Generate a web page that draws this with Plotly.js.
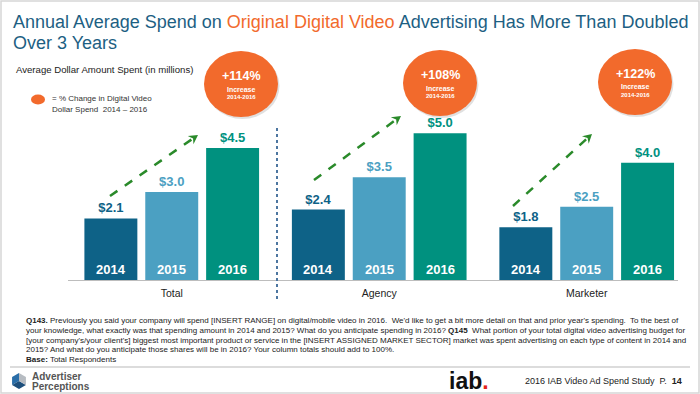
<!DOCTYPE html>
<html>
<head>
<meta charset="utf-8">
<script src="https://cdn.plot.ly/plotly-3.0.1.min.js"></script>
<style>
html,body{margin:0;padding:0;background:#fff;}
#chart{width:700px;height:394px;}
</style>
</head>
<body>
<div id="chart"></div>
<script>
// ---- data ----
const groups = ["Total", "Agency", "Marketer"];
const years = ["2014", "2015", "2016"];
const spend2014 = [2.1, 2.4, 1.8];
const spend2015 = [3.0, 3.5, 2.5];
const spend2016 = [4.5, 5.0, 4.0];
const pctChange = ["+114%", "+108%", "+122%"];
const colors = ["#0e6287", "#4ba0c2", "#00917f"];

// ---- layout constants ----
const W = 700, H = 394;
const M = {l: 68, r: 22, t: 60, b: 114};
const PW = W - M.l - M.r, PH = H - M.t - M.b;
const XR = [-0.5, 2.44];
const BARGAP = 0.12, BARGROUPGAP = 0.13;
const pxPerCat = PW / (XR[1] - XR[0]);
const slotPx = (1 - BARGAP) / 3 * pxPerCat;
const px = x => (x - M.l) / PW;
const py = y => (M.t + PH - y) / PH;

const series = [spend2014, spend2015, spend2016];
const traces = series.map((vals, i) => ({
  type: "bar",
  name: years[i],
  x: groups,
  y: vals,
  marker: {color: colors[i]},
  text: vals.map(v => "$" + v.toFixed(1)),
  texttemplate: "%{text}",
  textposition: "outside",
  cliponaxis: false,
  textfont: {family: "Liberation Sans, Arial, sans-serif", size: 13, color: colors[i], weight: "bold"},
  hoverinfo: "skip"
}));

const annotations = [];
const shapes = [];
const FONT = "Liberation Sans, Arial, sans-serif";

// year labels inside bars
groups.forEach((g, gi) => {
  years.forEach((yr, yi) => {
    annotations.push({
      xref: "x", yref: "y", x: g, y: 0, xanchor: "center", yanchor: "bottom", yshift: 1,
      xshift: (yi - 1) * slotPx, showarrow: false, text: yr,
      font: {family: FONT, size: 13, color: "#ffffff", weight: "bold"}
    });
  });
});

const txt = (x, y, text, size, color, anchor, extra) => annotations.push(Object.assign({
  xref: "paper", yref: "paper", x: px(x), y: py(y), xanchor: anchor || "left", yanchor: "middle",
  showarrow: false, text: text, font: {family: FONT, size: size, color: color}
}, extra || {}));

// orange bubbles
const bubbles = [[241, 84], [440, 83], [635, 82]];
bubbles.forEach((c, i) => {
  const rx = 37, ry = 33;
  shapes.push({type: "circle", xref: "paper", yref: "paper",
    x0: px(c[0] - rx + 1.5), x1: px(c[0] + rx + 1.5), y0: py(c[1] + ry + 2), y1: py(c[1] - ry + 2),
    fillcolor: "rgba(0,0,0,0.12)", line: {width: 0}, layer: "above"});
  shapes.push({type: "circle", xref: "paper", yref: "paper",
    x0: px(c[0] - rx), x1: px(c[0] + rx), y0: py(c[1] + ry), y1: py(c[1] - ry),
    fillcolor: "#f26a2c", line: {width: 0}, layer: "above"});
  txt(c[0], c[1] - 8, "<b>" + pctChange[i] + "</b>", 12.5, "#fff", "center");
  txt(c[0], c[1] + 5, "<b>Increase</b>", 7, "#fff", "center");
  txt(c[0], c[1] + 12.5, "<b>2014-2016</b>", 6, "#fff", "center");
});

// green dashed arrows
function arrow(x0, y0, x1, y1) {
  const dx = x1 - x0, dy = y1 - y0, len = Math.hypot(dx, dy);
  const ux = dx / len, uy = dy / len;
  const hl = 9, hw = 5;
  const bx = x1 - ux * hl, by = y1 - uy * hl;
  shapes.push({type: "line", xref: "paper", yref: "paper",
    x0: px(x0), y0: py(y0), x1: px(bx + ux * 1), y1: py(by + uy * 1),
    line: {color: "#2a8a2a", width: 2.5, dash: "dash"}, layer: "above"});
  const p1 = [bx - uy * hw, by + ux * hw], p2 = [bx + uy * hw, by - ux * hw];
  shapes.push({type: "path", xref: "paper", yref: "paper",
    path: `M ${px(x1)} ${py(y1)} L ${px(p1[0])} ${py(p1[1])} L ${px(bx + ux * 3)} ${py(by + uy * 3)} L ${px(p2[0])} ${py(p2[1])} Z`,
    fillcolor: "#2a8a2a", line: {width: 0}, layer: "above"});
}
arrow(110, 196, 198, 135);
arrow(314, 180, 401, 116);
arrow(513, 206, 592, 134);

// dotted separator
shapes.push({type: "line", xref: "paper", yref: "paper", x0: px(277), x1: px(277), y0: py(128), y1: py(299),
  line: {color: "#4d76a0", width: 2, dash: "dot"}});

// legend marker
shapes.push({type: "circle", xref: "paper", yref: "paper", x0: px(31), x1: px(45), y0: py(104.5), y1: py(94.5),
  fillcolor: "#f26a2c", line: {width: 0}});

// footer separator & slide border
shapes.push({type: "line", xref: "paper", yref: "paper", x0: px(10), x1: px(690), y0: py(367), y1: py(367),
  line: {color: "#dcdcdc", width: 2}});
shapes.push({type: "rect", xref: "paper", yref: "paper", x0: px(1), x1: px(699), y0: py(393), y1: py(1),
  line: {color: "#d6d6d6", width: 1.5}});

// logo cube (Advertiser Perceptions)
const cx = 19, cy = 381, r = 8;
const hex = a => [cx + r * Math.cos(a * Math.PI / 180), cy - r * Math.sin(a * Math.PI / 180)];
function poly(pts, fill) {
  shapes.push({type: "path", xref: "paper", yref: "paper",
    path: "M " + pts.map(p => px(p[0]) + " " + py(p[1])).join(" L ") + " Z",
    fillcolor: fill, line: {width: 0}});
}
poly([[cx, cy], hex(90), hex(150), hex(210)], "#2a6ea8");
poly([[cx, cy], hex(210), hex(270), hex(330)], "#1d4f7c");
poly([[cx, cy], hex(330), hex(30), hex(90)], "#b7bcc2");

// title
const TC = "#1d5f83";
txt(11, 22, "Annual Average Spend on <span style='color:#f26a2c'>Original Digital Video</span> Advertising Has More Than Doubled", 18, TC);
txt(11, 43, "Over 3 Years", 18, TC);

txt(14, 70, "Average Dollar Amount Spent (in millions)", 9.6, "#222");
txt(50, 98, "= % Change in Digital Video", 8, "#333");
txt(50, 109, "Dollar Spend  2014 – 2016", 8, "#333");

const foot = [
  "<b>Q143.</b> Previously you said your company will spend [INSERT RANGE] on digital/mobile video in 2016.  We'd like to get a bit more detail on that and prior year's spending.  To the best of",
  "your knowledge, what exactly was that spending amount in 2014 and 2015? What do you anticipate spending in 2016? <b>Q145</b>  What portion of your total digital video advertising budget for",
  "[your company's/your client's] biggest most important product or service in the [INSERT ASSIGNED MARKET SECTOR] market was spent advertising on each type of content in 2014 and",
  "2015? And what do you anticipate those shares will be in 2016? Your column totals should add to 100%.",
  "<b>Base:</b> Total Respondents"
];
const footY = [320, 330, 340, 349.5, 359];
foot.forEach((t, i) => txt(24, footY[i], t, 8, "#222"));

txt(30, 376, "<b>Advertiser</b>", 10, "#555");
txt(30, 386, "<b>Perceptions</b>", 10, "#555");
txt(447, 381, "<b>iab</b><span style='color:#e2231a'><b>.</b></span>", 23, "#111");
txt(523, 381, "2016 IAB Video Ad Spend Study  P.  <b>14</b>", 9, "#222");

const layout = {
  width: W, height: H,
  margin: M,
  paper_bgcolor: "#fff", plot_bgcolor: "#fff",
  showlegend: false,
  barmode: "group", bargap: BARGAP, bargroupgap: BARGROUPGAP,
  xaxis: {
    type: "category", range: XR, showline: true, linecolor: "#bdbdbd", linewidth: 1,
    ticks: "", showgrid: false, zeroline: false, ticklabelstandoff: 3,
    tickfont: {family: FONT, size: 10.5, color: "#222"}, fixedrange: true
  },
  yaxis: {range: [0, 7.5], visible: false, fixedrange: true},
  annotations: annotations,
  shapes: shapes,
  font: {family: FONT}
};

Plotly.newPlot("chart", traces, layout, {displayModeBar: false, staticPlot: true});
</script>
</body>
</html>
